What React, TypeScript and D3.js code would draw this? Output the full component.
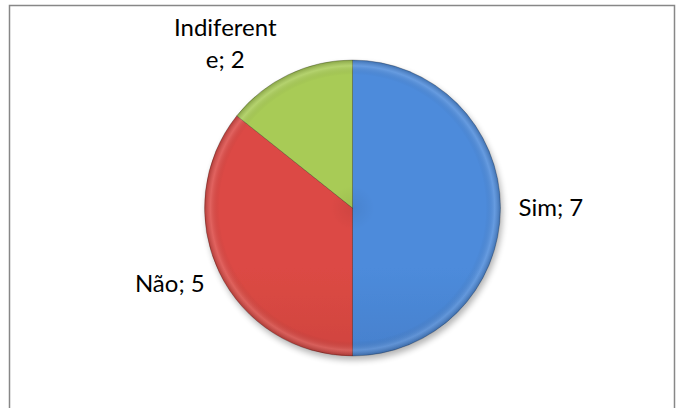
import React from 'react'
import * as d3 from 'd3'

// pie data
const categories = ['Sim', 'Não', 'Indiferente']
const values = [7, 5, 2]
// Excel wrapped the long label mid-word
const labelLines = [['Sim; 7'], ['Não; 5'], ['Indiferent', 'e; 2']]
const topColors = ['#4d8bdb', '#dc4a44', '#a8cb56']
const bottomColors = ['#3567ab', '#b23433', '#8aab3f']

const W = 683
const H = 408
const cx = 352.5
const cy = 208
const r = 148
const fontSize = 24
const lineH = 32

function labelPos(a: number, lines: string[]) {
  const lr = r + 18
  const s = Math.sin(a)
  const c = Math.cos(a)
  const px = cx + lr * s
  const py = cy - lr * c
  const wid = d3.max(lines, (l) => l.length * fontSize * 0.46) || 0
  const h = lines.length * lineH
  let anchor = 'middle'
  let x = px
  if (s > 0.3) anchor = 'start'
  else if (s < -0.3) {
    // block right edge at px, lines centred inside it
    x = px - wid / 2
  }
  let top = py - h / 2
  if (c > 0.8) top = py - h
  else if (c < -0.8) top = py
  else if (c < -0.3) top += 4
  top = Math.max(top, 12) // keep inside the chart area
  return { x, top, anchor }
}

export default function App() {
  const pie = d3.pie<number>().sort(null).value((d) => d)
  const arcs = pie(values)
  const arc = d3.arc<d3.PieArcDatum<number>>().innerRadius(0).outerRadius(r)

  return (
    <svg width={W} height={H} style={{ position: 'absolute', left: 0, top: 0 }}>
      <defs>
        {categories.map((c, i) => (
          <linearGradient key={c} id={'g' + i} x1="0" y1={cy - r} x2="0" y2={cy + r} gradientUnits="userSpaceOnUse">
            <stop offset="0" stopColor={topColors[i]} />
            <stop offset="1" stopColor={bottomColors[i]} />
          </linearGradient>
        ))}
        <radialGradient id="rim" cx={cx} cy={cy} r={r} gradientUnits="userSpaceOnUse">
          <stop offset="0" stopColor="#000" stopOpacity="0.06" />
          <stop offset="0.15" stopColor="#000" stopOpacity="0" />
          <stop offset="0.9" stopColor="#000" stopOpacity="0" />
          <stop offset="0.96" stopColor="#fff" stopOpacity="0.14" />
          <stop offset="1" stopColor="#000" stopOpacity="0.2" />
        </radialGradient>
        <filter id="sh" x="-20%" y="-20%" width="140%" height="140%">
          <feGaussianBlur in="SourceAlpha" stdDeviation="3" />
          <feOffset dx="2" dy="4" result="b" />
          <feComponentTransfer><feFuncA type="linear" slope="0.3" /></feComponentTransfer>
          <feMerge><feMergeNode /><feMergeNode in="SourceGraphic" /></feMerge>
        </filter>
      </defs>
      <rect x={9.5} y={5.5} width={665} height={420} fill="#fff" stroke="#878787" strokeWidth={1.5} />
      <g transform={`translate(${cx},${cy})`}>
        <g filter="url(#sh)">
          {arcs.map((d, i) => (
            <path key={i} d={arc(d) || ''} fill={`url(#g${i})`} stroke="rgba(0,0,0,0.3)" strokeWidth={0.8} />
          ))}
        </g>
        <circle r={r} fill="url(#rim)" transform={`translate(${-cx},${-cy})`} cx={cx} cy={cy} />
      </g>
      <g fontFamily="Lato, 'Open Sans', sans-serif" fontSize={fontSize} fill="#000">
        {arcs.map((d, i) => {
          const a = (d.startAngle + d.endAngle) / 2
          const lines = labelLines[i]
          const p = labelPos(a, lines)
          return (
            <text key={i} x={p.x} y={p.top} textAnchor={p.anchor}>
              {lines.map((l, j) => (
                <tspan key={j} x={p.x} dy={j === 0 ? lineH * 0.75 : lineH}>{l}</tspan>
              ))}
            </text>
          )
        })}
      </g>
    </svg>
  )
}
